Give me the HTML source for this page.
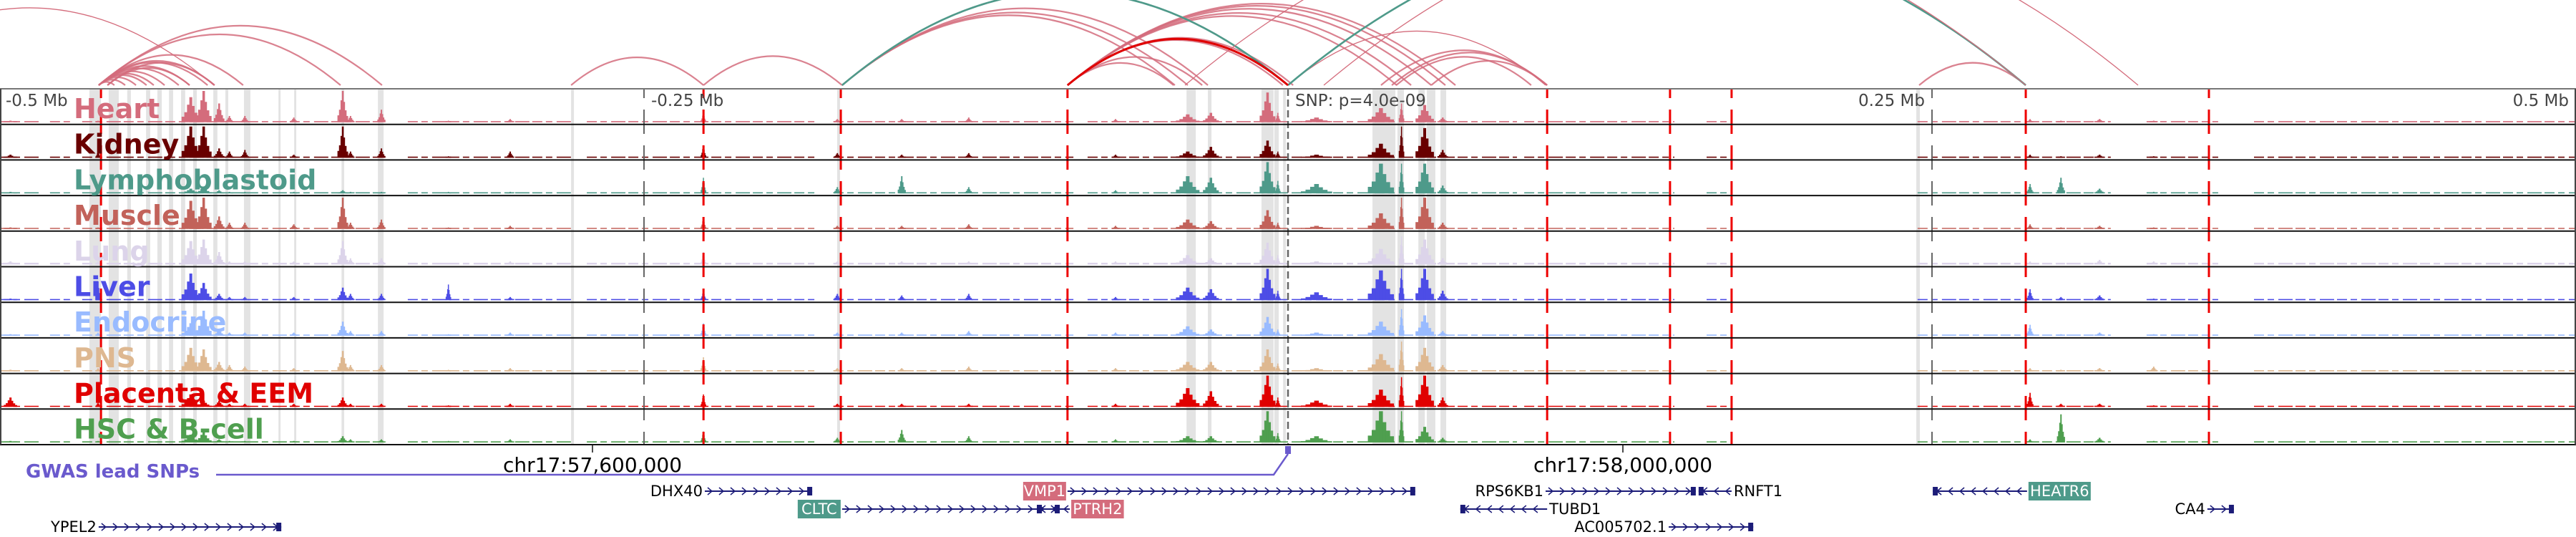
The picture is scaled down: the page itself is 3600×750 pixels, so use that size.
<!DOCTYPE html>
<html><head><meta charset="utf-8">
<style>
html,body{margin:0;padding:0;background:#fff;}
svg{display:block;}
text{font-family:"DejaVu Sans","Liberation Sans",sans-serif;}
</style></head>
<body>
<svg id="chart" width="3600" height="750" viewBox="0 0 3600 750" xmlns="http://www.w3.org/2000/svg"></svg>
<script>
// ---------- data (kb relative to lead SNP) ----------
const trackNames = ["Heart","Kidney","Lymphoblastoid","Muscle","Lung","Liver","Endocrine","PNS","Placenta & EEM","HSC & B-cell"];
const trackColors = ["#d46c7c","#690000","#4e9a8a","#c2625a","#dcd4ea","#4d4de6","#99bbff","#deb891","#e00000","#4f9f4f"];
const peakPos = [-496,-462,-426,-421,-415,-411,-405,-386,-367,-364,-352,-326,-302,-227,-175,-150,-124,-67,-39,-30,-8,-4,11,36,44,53,60,288,300,315,336];
const peakWidth = [5,2,7,6,4,3,3,3,4,3,3,2,3,2,3,3,3,3,9,6,6,2,12,10,2,7,4,2.5,3,4,3];
const heartPeaks =   [.05,.05,.8,1,.6,.2,.2,.15,1,.2,.4,.05,.1,.3,.1,.1,.15,.1,.25,.3,.95,.3,.15,.45,.6,.55,.15,.1,.05,.1,.05];
const kidneyPeaks =  [.1,.2,1,1,.3,.2,.25,.1,1,.2,.3,.05,.2,.4,.15,.1,.15,.1,.2,.35,.55,.2,.1,.45,1,.95,.25,.1,.05,.1,.05];
const lymphPeaks =   [.05,.05,.15,.2,.1,.05,.05,.05,.1,.05,.05,.05,.05,.5,.2,.55,.2,.1,.55,.5,1,.4,.3,.95,.95,.95,.25,.3,.5,.15,.05];
const musclePeaks =  [.05,.05,.9,1,.4,.2,.2,.15,1,.2,.3,.05,.1,.35,.1,.1,.15,.1,.3,.25,.6,.2,.1,.5,1,1,.2,.15,.05,.1,.05];
const lungPeaks =    [.1,.1,.75,.8,.4,.1,.1,.1,.75,.2,.2,.05,.1,.4,.1,.1,.1,.1,.3,.2,.7,.3,.1,.5,.9,.8,.2,.1,.05,.15,.1];
const liverPeaks =   [.05,.6,.85,.55,.2,.1,.1,.1,.4,.2,.2,.5,.1,.3,.2,.15,.2,.1,.4,.35,1,.3,.25,.95,1,1,.3,.35,.1,.15,.05];
const endoPeaks =    [.05,.1,.4,.8,.2,.1,.1,.1,.45,.15,.15,.05,.1,.4,.1,.1,.15,.1,.3,.2,.6,.2,.1,.45,.85,.65,.15,.35,.05,.1,.05];
const pnsPeaks =     [.05,.1,.75,.7,.3,.2,.15,.1,.65,.2,.2,.05,.1,.45,.1,.1,.15,.1,.3,.3,.7,.25,.1,.55,.95,.75,.2,.1,.05,.1,.15];
const placentaPeaks =[.3,.15,.4,.2,.2,.1,.1,.1,.3,.1,.1,.05,.1,.4,.1,.1,.1,.1,.6,.5,1,.3,.2,.55,.95,1,.3,.45,.1,.1,.05];
const hscPeaks =     [.05,.05,.25,.35,.1,.05,.05,.05,.2,.1,.1,.05,.1,.35,.15,.4,.2,.1,.2,.2,1,.3,.2,1,1,.5,.15,.1,.9,.15,.05];
const trackPeaks = [heartPeaks,kidneyPeaks,lymphPeaks,musclePeaks,lungPeaks,liverPeaks,endoPeaks,pnsPeaks,placentaPeaks,hscPeaks];
const covStart = [-500,-480.6,-468.1,-341.7,-272.2,-176.4,-77.8,1.4,91.7,162.5,244.4,333.3,375];
const covEnd   = [-484.7,-472.2,-350,-277.8,-183.3,-83.3,0,88.9,150,172.2,319.4,361.1,500];
const bandStart = [-465.3,-457.8,-450.6,-443.3,-438.9,-434.4,-429.7,-425,-417.2,-412.5,-405.3,-391.9,-385.8,-367.4,-353.3,-278.3,-175,-39.4,-31.1,-10.3,-5.3,-1.9,32.8,42.5,50.6,53.9,59.2,243.9];
const bandEnd   = [-460.8,-453.9,-449.2,-441.7,-437.2,-432.8,-428.1,-423.6,-415.6,-411.4,-402.8,-391.1,-385,-366.4,-351.1,-277.2,-173.9,-35.8,-29.7,-5.6,-3.6,-0.8,41.7,45,53.1,57.2,61.4,245.3];
const redLines = [-460.8,-226.9,-173.6,-85.6,100.6,148.3,172.2,286.4,357.5];
const greyLines = [-250,250];
const arcStart = [-461.7,-461.7,-461.7,-461.7,-461.7,-461.7,-461.7,-461.7,-461.7,-461.7,-461.7,-461.7,-461.7,-458.3,-458.3,-560,-278.3,-226.9,-173.1,-173.1,-173.1,-173.1,-85.6,-85.6,-85.6,-85.6,-85.6,-85.6,-85.6,-85.6,-85.6,-85.6,36.1,40.3,55.6,42,0,245,0,13.9,-173.1,-40,-85.6];
const arcEnd   = [-455.6,-451.4,-447.2,-443.1,-440.3,-436.1,-430.6,-426.4,-419.4,-416.7,-405.6,-367.8,-351.7,-426.4,-416.7,-417,-226.9,-173.1,-43.9,-38.9,-31.1,0,-44.4,-33.3,0,-2,2,42.2,47.8,55.6,61.1,65,100.6,100.6,100.6,94.4,100,286.4,286.4,330,0,286.4,0];
const arcKind  = ["p","p","p","p","p","p","p","p","p","p","p","p","p","p","p","g","p","p","p","p","p","p","p","p","p","p","p","p","p","p","p","p","p","p","p","p","g","p","t","g","t","g","r"];
const genes = [
 {name:"DHX40",s:-226.4,e:-184.7,row:0,dir:1,lab:"left"},
 {name:"VMP1",s:-85.6,e:49.4,row:0,dir:1,lab:"leftbox",box:"#d46c7c"},
 {name:"CLTC",s:-173.1,e:-88.6,row:1,dir:1,lab:"leftbox",box:"#4e9a8a"},
 {name:"PTRH2",s:-97.5,e:-84.7,row:1,dir:-1,lab:"rightbox",box:"#d46c7c"},
 {name:"YPEL2",s:-461.7,e:-390.8,row:2,dir:1,lab:"left"},
 {name:"RPS6KB1",s:100,e:158.3,row:0,dir:1,lab:"left"},
 {name:"RNFT1",s:159.4,e:172.2,row:0,dir:-1,lab:"right"},
 {name:"TUBD1",s:66.9,e:100.6,row:1,dir:-1,lab:"right"},
 {name:"AC005702.1",s:147.8,e:180.6,row:2,dir:1,lab:"left"},
 {name:"HEATR6",s:250.3,e:286.9,row:0,dir:-1,lab:"rightbox",box:"#4e9a8a"},
 {name:"CA4",s:356.9,e:367.2,row:1,dir:1,lab:"left"}
];
const axisLabels = ["-0.5 Mb","-0.25 Mb","SNP: p=4.0e-09","0.25 Mb","0.5 Mb"];
const chrTicks = [-270,130];
const chrTickLabels = ["chr17:57,600,000","chr17:58,000,000"];

// ---------- scales ----------
const NS="http://www.w3.org/2000/svg";
const svg=document.getElementById('chart');
const X = kb => 1800 + kb*3.6;
const top0=124, rowH=49.7, nRows=10, boxBottom=top0+rowH*nRows;
const arcBase=119, arcK=0.21;
function el(tag,attrs,parent){const e=document.createElementNS(NS,tag);for(const k in attrs)e.setAttribute(k,attrs[k]);(parent||svg).appendChild(e);return e;}

const defs=el('defs',{});
const cp=el('clipPath',{id:'arcclip'},defs);
el('rect',{x:0,y:0,width:3600,height:arcBase+1},cp);

// arcs
const arcG=el('g',{'clip-path':'url(#arcclip)'});


const arcCol={p:"#d46c7c",t:"#4e9a8a",g:"#d46c7c",r:"#e00000"};
const arcW={p:2.2,t:2.6,g:1.3,r:3};
for(let i=0;i<arcStart.length;i++){
  const x1=X(arcStart[i]),x2=X(arcEnd[i]);
  const h=arcK*Math.abs(x2-x1);
  const a=el('path',{d:`M${x1},${arcBase} Q${(x1+x2)/2},${arcBase-2*h} ${x2},${arcBase}`,fill:'none',stroke:arcCol[arcKind[i]],'stroke-width':arcW[arcKind[i]],'stroke-opacity':arcKind[i]==='p'?0.85:1},arcG);
  
  
}

// grey bands
const bandG=el('g',{});


for(let i=0;i<bandStart.length;i++){
  const b=el('rect',{x:X(bandStart[i]),y:top0,width:Math.max(2,X(bandEnd[i])-X(bandStart[i])),height:boxBottom-top0,fill:'#e3e3e3'},bandG);
  
  
}

// tracks
for(let t=0;t<nRows;t++){
  const g=el('g',{});
  
  
  const base=top0+rowH*(t+1)-3, maxH=rowH-6;
  const col=trackColors[t];
  const bl = t===4?2.5:1.6;
  for(let s=0;s<covStart.length;s++){
    const r=el('line',{x1:X(covStart[s]),x2:X(covEnd[s]),y1:base-bl/2,y2:base-bl/2,stroke:col,'stroke-width':bl,'stroke-dasharray':'14 5 9 6 20 4'},g);
    
    
  }
  const vals=trackPeaks[t];
  for(let p=0;p<peakPos.length;p++){
    const h=vals[p]*maxH, c=X(peakPos[p]), w=peakWidth[p]*3.6;
    const parts=[[-0.5,-0.35,0.22],[-0.35,-0.2,0.4],[-0.2,-0.07,0.7],[-0.07,0.07,1],[0.07,0.2,0.65],[0.2,0.35,0.38],[0.35,0.5,0.2]];
    for(const pr of parts){
      const bh=Math.max(bl,h*pr[2]);
      const r=el('rect',{x:c+pr[0]*w,y:base-bh,width:Math.max(1,(pr[1]-pr[0])*w+0.5),height:bh,fill:col},g);
      
      
    }
  }
}

// dashed lines
for(let i=0;i<redLines.length;i++){
  const l=el('line',{x1:X(redLines[i]),x2:X(redLines[i]),y1:top0,y2:boxBottom,stroke:'#ee0000','stroke-width':3,'stroke-dasharray':'34 16','stroke-dashoffset':21});
  
  
}
for(let i=0;i<greyLines.length;i++){
  const l=el('line',{x1:X(greyLines[i]),x2:X(greyLines[i]),y1:top0,y2:boxBottom,stroke:'#666','stroke-width':2,'stroke-dasharray':'34 16','stroke-dashoffset':21});
  
  
}
const snpL=el('line',{x1:X(0),x2:X(0),y1:top0,y2:boxBottom,stroke:'#666','stroke-width':2.5,'stroke-dasharray':'10 5'});



// row borders
for(let i=0;i<=nRows;i++){
  const l=el('line',{x1:0,x2:3600,y1:top0+rowH*i,y2:top0+rowH*i,stroke:i===0?'#777':'#111','stroke-width':2});
  
  
}
const lb=el('line',{x1:1,x2:1,y1:top0,y2:boxBottom,stroke:'#444','stroke-width':2});


const rb=el('line',{x1:3599,x2:3599,y1:top0,y2:boxBottom,stroke:'#444','stroke-width':2});



// track labels
for(let t=0;t<nRows;t++){
  const tx=el('text',{x:103,y:top0+rowH*t+41,fill:trackColors[t],'font-size':38,'font-weight':'bold'});
  tx.textContent=trackNames[t];
  
  
}

// axis labels
const axisPos=[[8,'start'],[X(-250)+10,'start'],[X(0)+10,'start'],[X(250)-10,'end'],[3590,'end']];
for(let i=0;i<axisLabels.length;i++){
  const tx=el('text',{x:axisPos[i][0],y:148,'text-anchor':axisPos[i][1],fill:'#444','font-size':23});
  tx.textContent=axisLabels[i];
  
  
}

// chromosome ticks
for(let i=0;i<chrTicks.length;i++){
  const x=X(chrTicks[i]);
  const tk=el('line',{x1:x,x2:x,y1:boxBottom,y2:boxBottom+11,stroke:'#111','stroke-width':1.5});
  
  
  const tx=el('text',{x:x,y:659,'text-anchor':'middle',fill:'#000','font-size':28});
  tx.textContent=chrTickLabels[i];
  
  
}

// GWAS track
const gw=el('text',{x:36,y:667,fill:'#6a5acd','font-size':26,'font-weight':'bold'});
gw.textContent='GWAS lead SNPs';


const gl=el('path',{d:`M302,663 L${X(0)-20},663 L${X(0)},634`,fill:'none',stroke:'#6a5acd','stroke-width':2.5});


const gs=el('rect',{x:X(0)-4,y:623,width:8,height:11,fill:'#6a5acd'});



// genes
const rowY=[686,711,736];
for(const gn of genes){
  const g=el('g',{});
  
  
  const x1=X(gn.s),x2=X(gn.e),y=rowY[gn.row];
  el('line',{x1:x1,x2:x2,y1:y,y2:y,stroke:'#1c1c78','stroke-width':2},g);
  for(let x=x1+8;x<x2-6;x+=16){
    const d=gn.dir>0?`M${x-4},${y-5} L${x+2},${y} L${x-4},${y+5}`:`M${x+4},${y-5} L${x-2},${y} L${x+4},${y+5}`;
    el('path',{d:d,fill:'none',stroke:'#1c1c78','stroke-width':1.5},g);
  }
  const endX=gn.dir>0?x2-7:x1;
  el('rect',{x:endX,y:y-6,width:7,height:12,fill:'#1c1c78'},g);
  const fs=21;
  if(gn.lab==='left'){
    const t=el('text',{x:x1-3,y:y+7,'text-anchor':'end','font-size':fs,fill:'#000'},g);t.textContent=gn.name;
  }else if(gn.lab==='right'){
    const t=el('text',{x:x2+3,y:y+7,'font-size':fs,fill:'#000'},g);t.textContent=gn.name;
  }else{
    const w=gn.name.length*13.5+6;
    const bx=gn.lab==='leftbox'?x1-w-2:x2+2;
    el('rect',{x:bx,y:y-13,width:w,height:26,fill:gn.box},g);
    const t=el('text',{x:bx+w/2,y:y+7,'text-anchor':'middle','font-size':fs,fill:'#fff'},g);t.textContent=gn.name;
  }
}
</script>
</body></html>
